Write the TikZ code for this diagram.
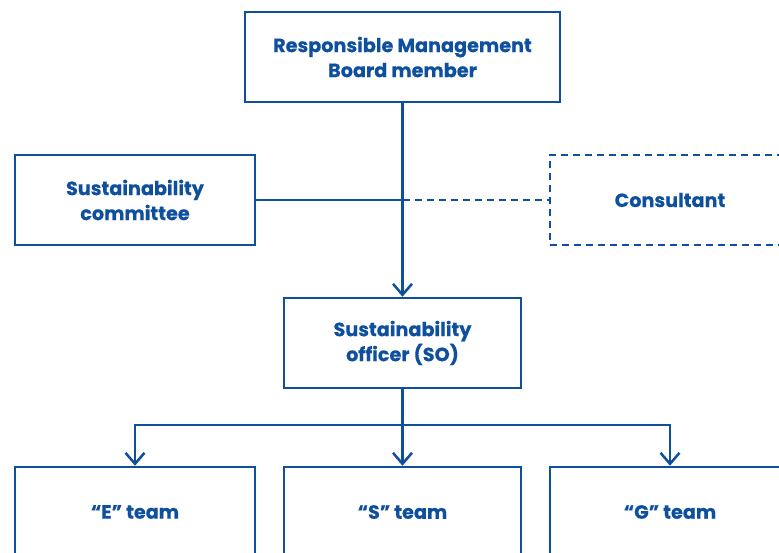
\documentclass[tikz,border=0pt]{standalone}
\usepackage{fontspec}
\setmainfont{Poppins}[BoldFeatures={FakeBold=0.4}]
\usetikzlibrary{arrows.meta}
\definecolor{navy}{RGB}{14,80,158}
\tikzset{
  box/.style={draw=navy, line width=2.5pt, minimum width=#1, minimum height=90pt, inner sep=0pt, align=center, text=navy, font=\fontsize{19.2}{25}\selectfont\bfseries},
  box/.default=240pt,
  dbox/.style={box=#1, dash pattern=on 7pt off 5pt},
  dbox/.default=240pt,
  link/.style={draw=navy, line width=2.5pt},
  dlink/.style={link, dash pattern=on 7pt off 5pt},
  arr/.style={link, -{Straight Barb[length=11pt,width=19pt,line width=2.5pt]}},
  x=1pt, y=-1pt
}
\begin{document}
\begin{tikzpicture}
\useasboundingbox (0,0) rectangle (779,553);
\clip (0,0) rectangle (779,553);
\node[box=315pt] (board) at (402.5,57) {Responsible Management\\Board member};
\node[box] (committee) at (135,200) {Sustainability\\committee};
\node[dbox] (consultant) at (670,200) {Consultant};
\node[box=237pt] (so) at (402.5,343) {Sustainability\\officer (SO)};
\node[box] (e) at (135,512) {“E” team};
\node[box=237pt] (s) at (402.5,512) {“S” team};
\node[box] (g) at (670,512) {“G” team};
\coordinate (mid) at (board.south |- committee.east);
\coordinate (branch) at (402.5,425);
\draw[arr] (board.south) -- (so.north);
\draw[link] (committee.east) -- (mid);
\draw[dlink] (mid) -- (consultant.west);
\draw[link] (so.south) -- (branch);
\draw[arr] (branch) -| (e.north);
\draw[arr] (branch) -| (g.north);
\draw[arr] (branch) -- (s.north);
\end{tikzpicture}
\end{document}
